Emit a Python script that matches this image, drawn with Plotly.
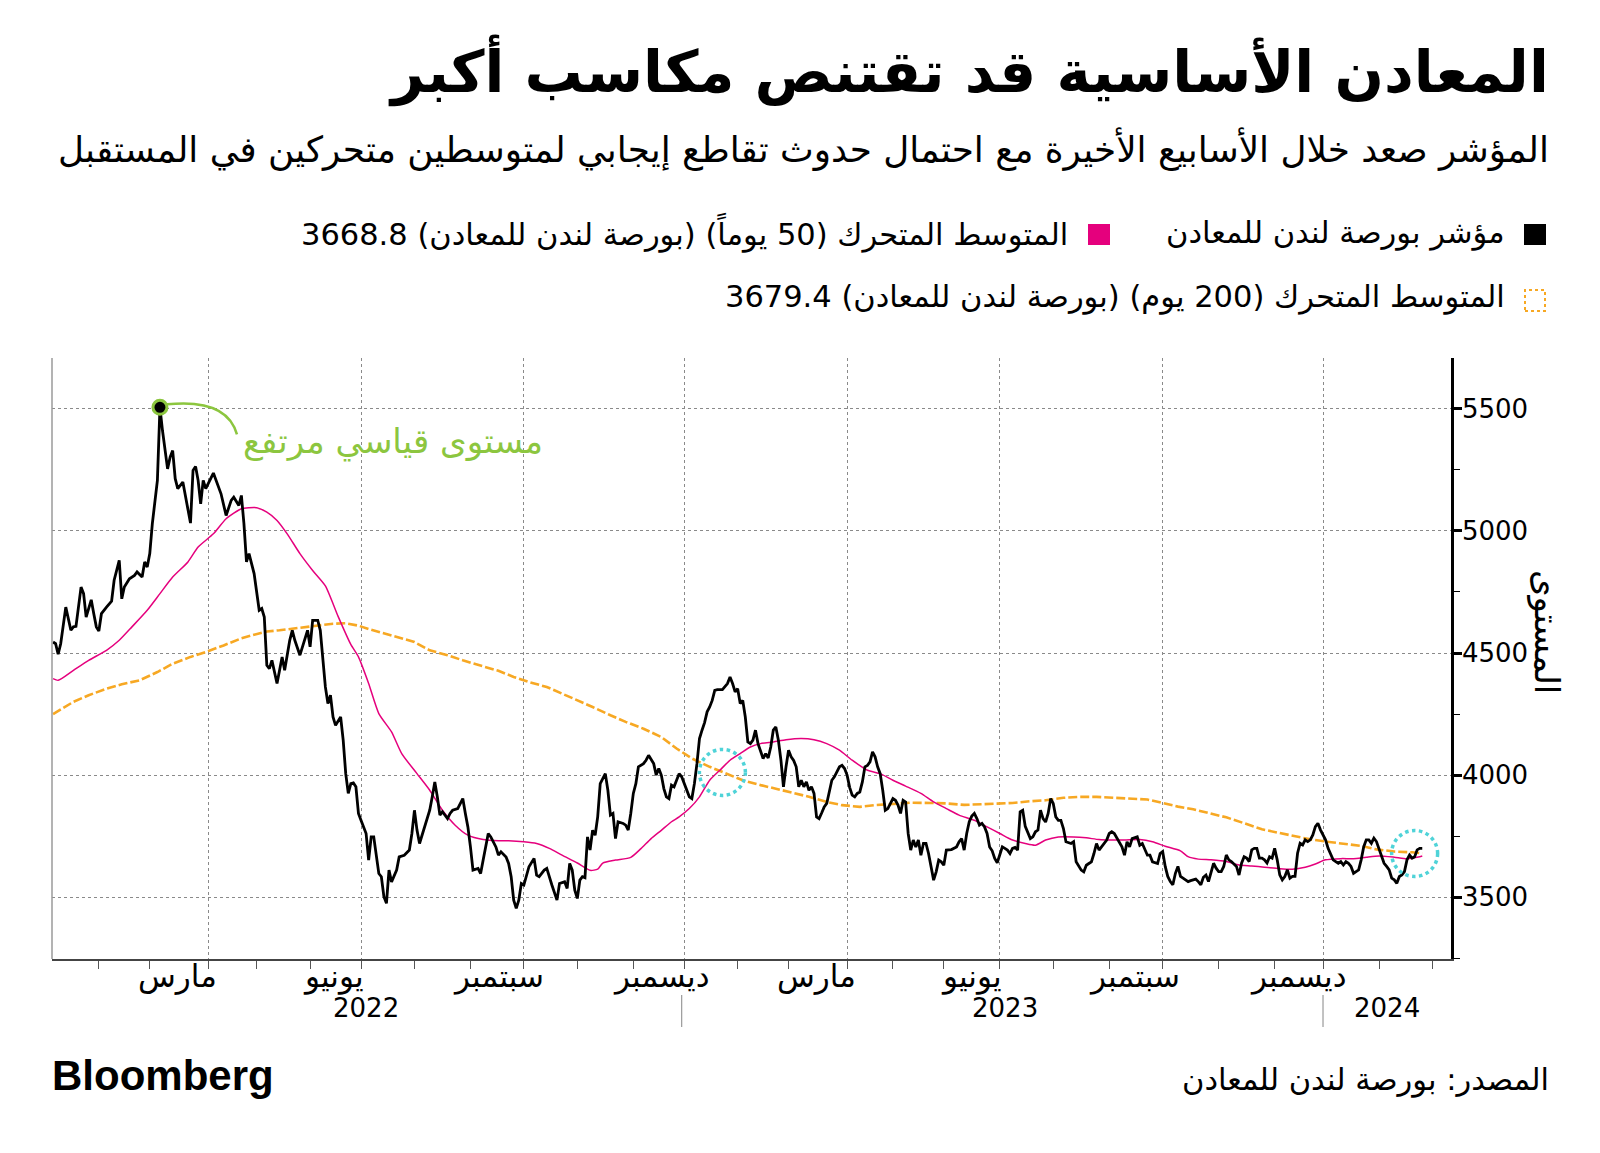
import plotly.graph_objects as go
import pandas as pd

# ---------------- data ----------------
idx_dates = [
"2022-01-06","2022-01-07","2022-01-10","2022-01-11","2022-01-13","2022-01-14","2022-01-17","2022-01-18","2022-01-19","2022-01-21",
"2022-01-24","2022-01-25","2022-01-27","2022-01-28","2022-01-31","2022-02-01","2022-02-02","2022-02-04","2022-02-08","2022-02-09",
"2022-02-11","2022-02-14","2022-02-15","2022-02-17","2022-02-21","2022-02-22","2022-02-24","2022-02-25","2022-02-28","2022-03-01",
"2022-03-02","2022-03-04","2022-03-07","2022-03-08","2022-03-09","2022-03-10","2022-03-11","2022-03-14","2022-03-15","2022-03-16",
"2022-03-18","2022-03-22","2022-03-23","2022-03-24","2022-03-25","2022-03-28","2022-03-29","2022-03-30","2022-03-31","2022-04-05",
"2022-04-07","2022-04-08","2022-04-12","2022-04-14","2022-04-19","2022-04-21","2022-04-22","2022-04-25","2022-04-26","2022-04-27",
"2022-04-29","2022-05-04","2022-05-05","2022-05-06","2022-05-09","2022-05-10","2022-05-11","2022-05-13","2022-05-17","2022-05-18",
"2022-05-20","2022-05-23","2022-05-24","2022-05-26","2022-05-31","2022-06-01","2022-06-06","2022-06-08","2022-06-09","2022-06-10",
"2022-06-13","2022-06-14","2022-06-15","2022-06-16","2022-06-17","2022-06-21","2022-06-22","2022-06-23","2022-06-24","2022-06-27",
"2022-06-28","2022-06-29","2022-06-30","2022-07-01","2022-07-05","2022-07-06","2022-07-07","2022-07-08","2022-07-11","2022-07-12",
"2022-07-13","2022-07-14","2022-07-15","2022-07-18","2022-07-19","2022-07-21","2022-07-22","2022-07-26","2022-07-28","2022-07-29",
"2022-08-01","2022-08-02","2022-08-03","2022-08-08","2022-08-09","2022-08-10","2022-08-11","2022-08-12","2022-08-15","2022-08-16",
"2022-08-18","2022-08-19","2022-08-22","2022-08-24","2022-08-26","2022-08-30","2022-08-31","2022-09-01","2022-09-02","2022-09-06",
"2022-09-07","2022-09-08","2022-09-09","2022-09-12","2022-09-13","2022-09-15","2022-09-16","2022-09-20","2022-09-22","2022-09-23",
"2022-09-26","2022-09-27","2022-09-28","2022-09-29","2022-09-30","2022-10-03","2022-10-05","2022-10-07","2022-10-10","2022-10-11",
"2022-10-13","2022-10-14","2022-10-18","2022-10-20","2022-10-21","2022-10-25","2022-10-26","2022-10-27","2022-10-28","2022-10-31",
"2022-11-01","2022-11-02","2022-11-03","2022-11-04","2022-11-07","2022-11-08","2022-11-09","2022-11-10","2022-11-11","2022-11-14",
"2022-11-15","2022-11-16","2022-11-17","2022-11-18","2022-11-21","2022-11-22","2022-11-23","2022-11-25","2022-11-28","2022-11-29",
"2022-11-30","2022-12-01","2022-12-02","2022-12-05","2022-12-07","2022-12-08","2022-12-09","2022-12-13","2022-12-14","2022-12-15",
"2022-12-16","2022-12-19","2022-12-20","2022-12-21","2022-12-22","2022-12-23","2022-12-28","2022-12-29","2022-12-30","2023-01-03",
"2023-01-04","2023-01-05","2023-01-06","2023-01-09","2023-01-10","2023-01-11","2023-01-12","2023-01-13","2023-01-16","2023-01-17",
"2023-01-18","2023-01-19","2023-01-20","2023-01-24","2023-01-26","2023-01-27","2023-01-30","2023-01-31","2023-02-01","2023-02-02",
"2023-02-03","2023-02-06","2023-02-07","2023-02-08","2023-02-09","2023-02-10","2023-02-13","2023-02-14","2023-02-15","2023-02-16",
"2023-02-17","2023-02-20","2023-02-21","2023-02-22","2023-02-23","2023-02-24","2023-02-27","2023-02-28","2023-03-01","2023-03-02",
"2023-03-03","2023-03-06","2023-03-07","2023-03-08","2023-03-09","2023-03-10","2023-03-13","2023-03-14","2023-03-15","2023-03-16",
"2023-03-17","2023-03-20","2023-03-21","2023-03-22","2023-03-23","2023-03-24","2023-03-27","2023-03-29","2023-03-30","2023-03-31",
"2023-04-03","2023-04-04","2023-04-05","2023-04-06","2023-04-11","2023-04-12","2023-04-13","2023-04-14","2023-04-17","2023-04-18",
"2023-04-19","2023-04-20","2023-04-21","2023-04-24","2023-04-25","2023-04-26","2023-04-27","2023-04-28","2023-05-02","2023-05-03",
"2023-05-04","2023-05-05","2023-05-09","2023-05-10","2023-05-11","2023-05-12","2023-05-15","2023-05-16","2023-05-17","2023-05-18",
"2023-05-19","2023-05-22","2023-05-23","2023-05-24","2023-05-25","2023-05-26","2023-05-30","2023-05-31","2023-06-01","2023-06-02",
"2023-06-06","2023-06-08","2023-06-09","2023-06-12","2023-06-13","2023-06-14","2023-06-15","2023-06-16","2023-06-19","2023-06-20",
"2023-06-21","2023-06-22","2023-06-23","2023-06-26","2023-06-27","2023-06-28","2023-06-29","2023-06-30","2023-07-03","2023-07-04",
"2023-07-05","2023-07-06","2023-07-07","2023-07-10","2023-07-11","2023-07-12","2023-07-13","2023-07-14","2023-07-17","2023-07-18",
"2023-07-19","2023-07-20","2023-07-21","2023-07-24","2023-07-25","2023-07-26","2023-07-27","2023-07-28","2023-07-31","2023-08-01",
"2023-08-02","2023-08-03","2023-08-04","2023-08-07","2023-08-08","2023-08-10","2023-08-11","2023-08-14","2023-08-15","2023-08-16",
"2023-08-17","2023-08-18","2023-08-21","2023-08-22","2023-08-23","2023-08-24","2023-08-25","2023-08-30","2023-08-31","2023-09-01",
"2023-09-04","2023-09-05","2023-09-07","2023-09-08","2023-09-11","2023-09-12","2023-09-13","2023-09-14","2023-09-18","2023-09-19",
"2023-09-20","2023-09-22","2023-09-25","2023-09-26","2023-09-28","2023-09-29","2023-10-02","2023-10-03","2023-10-04","2023-10-05",
"2023-10-06","2023-10-09","2023-10-10","2023-10-11","2023-10-12","2023-10-13","2023-10-16","2023-10-17","2023-10-18","2023-10-19",
"2023-10-20","2023-10-23","2023-10-24","2023-10-25","2023-10-26","2023-10-27","2023-10-30","2023-10-31","2023-11-01","2023-11-02",
"2023-11-03","2023-11-06","2023-11-07","2023-11-08","2023-11-10","2023-11-13","2023-11-14","2023-11-15","2023-11-16","2023-11-17",
"2023-11-20","2023-11-21","2023-11-22","2023-11-23","2023-11-24","2023-11-27","2023-11-28","2023-11-29","2023-11-30","2023-12-01",
"2023-12-04","2023-12-05","2023-12-06","2023-12-07","2023-12-08","2023-12-11","2023-12-12","2023-12-13","2023-12-14","2023-12-15",
"2023-12-18","2023-12-19","2023-12-20","2023-12-21","2023-12-22","2023-12-27","2023-12-28","2023-12-29","2024-01-02","2024-01-03",
"2024-01-04","2024-01-05","2024-01-08","2024-01-09","2024-01-10","2024-01-11","2024-01-12","2024-01-15","2024-01-16","2024-01-17",
"2024-01-18","2024-01-19","2024-01-22","2024-01-23","2024-01-24","2024-01-25","2024-01-26","2024-01-29","2024-01-30","2024-01-31",
"2024-02-01","2024-02-02","2024-02-05","2024-02-06","2024-02-07","2024-02-08","2024-02-09","2024-02-12","2024-02-13","2024-02-14",
"2024-02-15","2024-02-16","2024-02-19","2024-02-20","2024-02-21","2024-02-22","2024-02-23","2024-02-26",
]
idx_values = [
4545,4538,4495,4538,4688,4634,4593,4607,4609,4770,
4743,4647,4718,4661,4607,4590,4661,4688,4712,4798,
4879,4722,4770,4804,4818,4832,4811,4873,4852,4907,
5029,5207,5506,5411,5330,5254,5302,5329,5214,5173,
5200,5097,5032,5248,5264,5207,5111,5207,5173,5237,
5180,5152,5063,5125,5138,5104,5145,5030,4873,4907,
4825,4675,4682,4647,4450,4436,4470,4375,4484,4429,
4552,4593,4552,4491,4593,4525,4634,4634,4593,4484,
4361,4293,4327,4238,4204,4238,4143,4006,3925,3965,
3968,3952,3843,3815,3761,3652,3747,3747,3679,3597,
3584,3502,3475,3611,3563,3611,3665,3672,3693,3761,
3856,3775,3720,3829,3856,3911,3972,3911,3836,3850,
3822,3843,3856,3863,3904,3843,3788,3706,3611,3618,
3597,3652,3706,3761,3747,3706,3672,3686,3665,3638,
3584,3488,3454,3488,3556,3550,3625,3659,3590,3584,
3611,3618,3550,3488,3556,3563,3536,3638,3611,3529,
3495,3570,3584,3580,3747,3693,3774,3754,3829,3965,
3986,4006,3938,3836,3843,3740,3809,3802,3795,3775,
3843,3925,3965,4034,4047,4061,4081,4047,4000,4027,
4000,3945,3911,3904,3959,3952,3979,4006,3993,3965,
3938,3911,3904,3965,4047,4150,4184,4215,4259,4279,
4306,4347,4350,4350,4375,4402,4375,4341,4354,4293,
4306,4238,4136,4129,4143,4184,4129,4102,4068,4088,
4070,4115,4184,4197,4143,4061,3952,4034,4102,4075,
4060,4034,3952,3979,3952,3972,3938,3952,3925,3829,
3822,3845,3870,3884,3938,3979,3993,4034,4040,4027,
4000,3950,3918,3911,3925,3931,3972,4034,4040,4054,
4095,4075,4034,4006,3938,3856,3863,3884,3904,3897,
3877,3843,3897,3890,3761,3693,3734,3706,3734,3672,
3720,3720,3679,3625,3570,3604,3652,3645,3631,3693,
3695,3706,3727,3740,3693,3761,3809,3832,3843,3822,
3795,3802,3788,3761,3706,3690,3659,3641,3679,3706,
3700,3693,3679,3700,3704,3693,3850,3856,3790,3761,
3740,3747,3768,3775,3856,3822,3808,3843,3904,3884,
3829,3815,3815,3781,3727,3720,3727,3645,3625,3611,
3604,3631,3638,3645,3679,3720,3693,3720,3734,3761,
3768,3761,3727,3706,3672,3727,3706,3740,3747,3713,
3720,3672,3672,3645,3638,3679,3687,3626,3585,3564,
3551,3598,3626,3585,3578,3571,3564,3568,3571,3574,
3564,3551,3582,3591,3564,3605,3639,3619,3605,3605,
3626,3673,3653,3646,3626,3591,3639,3666,3660,3646,
3694,3700,3700,3660,3660,3653,3640,3666,3660,3700,
3653,3592,3571,3585,3612,3578,3585,3585,3680,3721,
3714,3735,3728,3735,3755,3789,3803,3776,3755,3735,
3700,3673,3653,3646,3639,3646,3632,3646,3639,3626,
3598,3605,3612,3653,3707,3735,3735,3721,3742,3728,
3700,3673,3639,3626,3612,3578,3571,3557,3585,3591,
3605,3653,3673,3660,3666,3694,3700,3700,
]

ma50_dates = [
"2022-01-06","2022-01-10","2022-01-18","2022-01-26","2022-02-04","2022-02-11","2022-02-18","2022-02-28","2022-03-07","2022-03-14",
"2022-03-22","2022-03-28","2022-04-05","2022-04-12","2022-04-22","2022-04-27","2022-05-03","2022-05-09","2022-05-13","2022-05-19",
"2022-05-26","2022-06-06","2022-06-13","2022-06-20","2022-06-27","2022-06-30","2022-07-06","2022-07-12","2022-07-19","2022-07-25",
"2022-08-02","2022-08-09","2022-08-16","2022-08-23","2022-08-31","2022-09-08","2022-09-16","2022-09-23","2022-10-03","2022-10-10",
"2022-10-17","2022-10-24","2022-11-01","2022-11-08","2022-11-11","2022-11-15","2022-11-22","2022-11-30","2022-12-06","2022-12-12",
"2022-12-16","2022-12-22","2022-12-29","2023-01-05","2023-01-11","2023-01-17","2023-01-23","2023-01-27","2023-02-02","2023-02-08",
"2023-02-14","2023-02-21","2023-02-28","2023-03-08","2023-03-15","2023-03-22","2023-03-29","2023-04-05","2023-04-17","2023-04-24",
"2023-05-02","2023-05-10","2023-05-18","2023-05-25","2023-06-02","2023-06-09","2023-06-19","2023-06-26","2023-07-03","2023-07-10",
"2023-07-17","2023-07-21","2023-07-27","2023-08-03","2023-08-11","2023-08-18","2023-08-25","2023-09-04","2023-09-11","2023-09-19",
"2023-09-26","2023-10-03","2023-10-11","2023-10-16","2023-10-20","2023-10-27","2023-11-06","2023-11-13","2023-11-20","2023-11-27",
"2023-12-05","2023-12-12","2023-12-19","2023-12-27","2024-01-03","2024-01-11","2024-01-18","2024-01-25","2024-02-01","2024-02-09",
"2024-02-16","2024-02-23","2024-02-26",
]
ma50_values = [
4395,4388,4429,4470,4511,4552,4607,4675,4743,4811,
4873,4934,4988,5050,5091,5095,5095,5077,5043,4988,
4907,4838,4775,4650,4535,4484,4375,4252,4177,4088,
4006,3938,3856,3795,3754,3736,3731,3731,3727,3720,
3700,3672,3640,3610,3615,3640,3652,3663,3699,3740,
3774,3809,3829,3863,3911,3979,4020,4061,4088,4115,
4129,4136,4145,4150,4145,4129,4102,4061,4020,4006,
3979,3955,3925,3890,3863,3836,3815,3788,3761,3734,
3720,3713,3734,3747,3747,3743,3736,3734,3734,3736,
3727,3709,3690,3666,3656,3653,3646,3632,3628,3623,
3617,3615,3623,3636,3653,3658,3658,3664,3669,3664,
3658,3666,3668.8,
]

ma200_dates = [
"2022-01-06","2022-01-18","2022-01-26","2022-02-04","2022-02-14","2022-02-23","2022-03-04","2022-03-14","2022-03-23","2022-03-31",
"2022-04-11","2022-04-22","2022-04-29","2022-05-09","2022-05-16","2022-05-24","2022-05-31","2022-06-09","2022-06-16","2022-06-23",
"2022-06-30","2022-07-07","2022-07-12","2022-07-21","2022-08-01","2022-08-09","2022-08-18","2022-08-26","2022-09-07","2022-09-16",
"2022-09-27","2022-10-05","2022-10-14","2022-10-25","2022-11-01","2022-11-09","2022-11-18","2022-11-28","2022-12-07","2022-12-16",
"2022-12-28","2023-01-06","2023-01-17","2023-01-26","2023-02-03","2023-02-14","2023-02-22","2023-03-03","2023-03-13","2023-03-22",
"2023-03-30","2023-04-12","2023-04-20","2023-05-02","2023-05-12","2023-05-24","2023-06-02","2023-06-13","2023-06-22","2023-06-30",
"2023-07-10","2023-07-19","2023-07-27","2023-08-07","2023-08-15","2023-08-24","2023-09-04","2023-09-13","2023-09-22","2023-10-02",
"2023-10-10","2023-10-18","2023-10-26","2023-11-06","2023-11-15","2023-11-24","2023-12-04","2023-12-12","2023-12-21","2024-01-03",
"2024-01-12","2024-01-23","2024-01-31","2024-02-09","2024-02-20","2024-02-26",
]
ma200_values = [
4250,4300,4327,4354,4372,4388,4422,4456,4484,4504,
4531,4560,4575,4588,4593,4600,4606,4612,4620,4622,
4612,4595,4586,4566,4545,4511,4491,4470,4450,4427,
4402,4381,4361,4330,4306,4279,4245,4218,4190,4156,
4109,4068,4034,4004,3979,3959,3945,3927,3911,3890,
3877,3870,3877,3882,3887,3886,3884,3878,3881,3884,
3886,3893,3897,3907,3911,3911,3907,3904,3900,3886,
3871,3860,3844,3827,3803,3778,3765,3751,3737,3728,
3718,3710,3696,3687,3684,3679.4,
]

# crossover highlights (date, level)
cross_dates = ["2023-01-24", "2024-02-21"]
cross_values = [4011, 3679]

y_ticks = [3500, 4000, 4500, 5000, 5500]
month_label_text = ["مارس", "يونيو", "سبتمبر", "ديسمبر", "مارس", "يونيو", "سبتمبر", "ديسمبر"]
month_label_dates = ["2022-03-16", "2022-06-16", "2022-09-16", "2022-12-16",
                     "2023-03-16", "2023-06-16", "2023-09-15", "2023-12-14"]
year_label_text = ["2022", "2023", "2024"]
year_label_dates = ["2022-07-05", "2023-07-05", "2024-02-06"]
year_break_dates = ["2023-01-01", "2024-01-01"]

holidays = ["2022-01-03", "2022-04-15", "2022-04-18", "2022-05-02", "2022-06-02", "2022-06-03",
            "2022-08-29", "2022-09-19", "2022-12-26", "2022-12-27", "2023-01-02", "2023-04-07",
            "2023-04-10", "2023-05-01", "2023-05-08", "2023-05-29", "2023-08-28", "2023-12-25",
            "2023-12-26", "2024-01-01"]

TITLE = "المعادن الأساسية قد تقتنص مكاسب أكبر"
SUBTITLE = "المؤشر صعد خلال الأسابيع الأخيرة مع احتمال حدوث تقاطع إيجابي لمتوسطين متحركين في المستقبل"
LEG_IDX = "مؤشر بورصة لندن للمعادن"
LEG_50 = "المتوسط المتحرك (50 يوماً) (بورصة لندن للمعادن) 3668.8"
LEG_200 = "المتوسط المتحرك (200 يوم) (بورصة لندن للمعادن) 3679.4"
PEAK_NOTE = "مستوى قياسي مرتفع"
Y_TITLE = "المستوى"
SOURCE = "المصدر: بورصة لندن للمعادن"

# ---------------- styling / geometry ----------------
# the page body has an 8px margin; the figure is sized so that page pixels match the reference
PAGE_OFF = 8
W, H = 1600 - 2 * PAGE_OFF, 1153 - 2 * PAGE_OFF
PX0, PX1, PY0, PY1 = 52, 1451, 358, 959          # plot area in page pixels
def fx(px):
    return (px - PX0) / (PX1 - PX0)
def fy(py):
    return (PY1 - py) / (PY1 - PY0)

AR_FONT = "DejaVu Sans, sans-serif"
NUM_FONT = "DejaVu Sans, sans-serif"
BLACK = "#000000"
MAGENTA = "#e5007d"
ORANGE = "#f7a823"
GREEN = "#8cc63f"
CYAN = "#4fd3d8"
GRID = "#8a8a8a"

hol_set = set(holidays)
def first_trading_day(ts):
    d = ts
    while d.weekday() >= 5 or d.strftime("%Y-%m-%d") in hol_set:
        d = d + pd.Timedelta(days=1)
    return d.strftime("%Y-%m-%d")

month_starts = pd.date_range("2022-02-01", "2024-03-01", freq="MS")
minor_ticks = [first_trading_day(m) for m in month_starts]
major_ticks = [first_trading_day(m) for m in month_starts if m.month in (1, 4, 7, 10)]

fig = go.Figure()
fig.add_trace(go.Scatter(x=ma200_dates, y=ma200_values, mode="lines",
                         line=dict(color=ORANGE, width=2.6, dash="9px,3px"),
                         showlegend=False, hoverinfo="skip"))
fig.add_trace(go.Scatter(x=ma50_dates, y=ma50_values, mode="lines",
                         line=dict(color=MAGENTA, width=1.5, shape="spline", smoothing=0.6),
                         showlegend=False, hoverinfo="skip"))
fig.add_trace(go.Scatter(x=idx_dates, y=idx_values, mode="lines",
                         line=dict(color=BLACK, width=2.8),
                         showlegend=False, hoverinfo="skip"))

# record-high marker
peak_i = max(range(len(idx_values)), key=lambda i: idx_values[i])
peak_x, peak_y = idx_dates[peak_i], idx_values[peak_i]
fig.add_trace(go.Scatter(x=[peak_x], y=[peak_y], mode="markers",
                         marker=dict(size=14, color=BLACK, line=dict(color=GREEN, width=3)),
                         showlegend=False, hoverinfo="skip"))

shapes = []
for cx, cy in zip(cross_dates, cross_values):
    shapes.append(dict(type="circle", xref="x", yref="y", xsizemode="pixel", ysizemode="pixel",
                       xanchor=cx, yanchor=cy, x0=-23, x1=23, y0=-23, y1=23,
                       line=dict(color=CYAN, width=3.5, dash="dot")))
shapes.append(dict(type="path", xref="x", yref="y", xsizemode="pixel", ysizemode="pixel",
                   xanchor=peak_x, yanchor=peak_y,
                   path="M 7,3 C 45,7 70,-2 77,-27",
                   line=dict(color=GREEN, width=2.5)))
shapes.append(dict(type="line", xref="paper", yref="paper", x0=0, x1=0, y0=0, y1=1,
                   line=dict(color="#9a9a9a", width=1.5)))
for d in year_break_dates:
    shapes.append(dict(type="line", xref="x", yref="paper", x0=d, x1=d,
                       y0=fy(995), y1=fy(1027), line=dict(color="#9a9a9a", width=1.2)))
shapes.append(dict(type="rect", xref="paper", yref="paper", x0=fx(1524), x1=fx(1546),
                   y0=fy(245), y1=fy(224), fillcolor=BLACK, line=dict(width=0)))
shapes.append(dict(type="rect", xref="paper", yref="paper", x0=fx(1088), x1=fx(1110),
                   y0=fy(245), y1=fy(224), fillcolor=MAGENTA, line=dict(width=0)))
shapes.append(dict(type="rect", xref="paper", yref="paper", x0=fx(1525), x1=fx(1545),
                   y0=fy(311), y1=fy(290), fillcolor="rgba(0,0,0,0)",
                   line=dict(color=ORANGE, width=2, dash="3px,3px")))

ann = []
def add_text(text, px, py, size, xanchor="right", color=BLACK, bold=False, family=AR_FONT):
    t = f"<b>{text}</b>" if bold else text
    ann.append(dict(text=t, xref="paper", yref="paper", x=fx(px), y=fy(py), xanchor=xanchor,
                    yanchor="middle", showarrow=False, borderpad=0,
                    font=dict(size=size, color=color, family=family)))

add_text(TITLE, 1550, 70, 58, bold=True)
add_text(SUBTITLE, 1550, 149, 35.8)
add_text(LEG_IDX, 1506, 233, 30.5)
add_text(LEG_50, 1069, 233, 30.5)
add_text(LEG_200, 1506, 297, 30.5)
add_text(SOURCE, 1550, 1080, 30.5)
add_text("Bloomberg", 51, 1075, 42, xanchor="left", bold=True, family="Liberation Sans, Arial, sans-serif")

for t, d in zip(month_label_text, month_label_dates):
    ann.append(dict(text=t, xref="x", yref="paper", x=d, y=fy(976), xanchor="center", yanchor="middle",
                    showarrow=False, font=dict(size=31, color=BLACK, family=AR_FONT)))
for t, d in zip(year_label_text, year_label_dates):
    ann.append(dict(text=t, xref="x", yref="paper", x=d, y=fy(1008), xanchor="center", yanchor="middle",
                    showarrow=False, font=dict(size=26, color=BLACK, family=AR_FONT)))
ann.append(dict(text=Y_TITLE, xref="paper", yref="paper", x=fx(1547), y=fy(632), textangle=90,
                xanchor="center", yanchor="middle", showarrow=False,
                font=dict(size=34, color=BLACK, family=AR_FONT)))
ann.append(dict(text=PEAK_NOTE, xref="x", yref="y", x=peak_x, y=peak_y, xanchor="left", yanchor="middle",
                xshift=81, yshift=-34, showarrow=False, font=dict(size=34, color=GREEN, family=AR_FONT)))

fig.update_layout(
    width=W, height=H,
    margin=dict(l=PX0 - PAGE_OFF, r=(W + PAGE_OFF) - PX1, t=PY0 - PAGE_OFF, b=(H + PAGE_OFF) - PY1, pad=0),
    paper_bgcolor="white", plot_bgcolor="white",
    shapes=shapes, annotations=ann,
    showlegend=False,
)
fig.update_xaxes(
    type="date",
    range=["2022-01-05 14:00", "2024-03-12 07:00"],
    rangebreaks=[dict(bounds=["sat", "mon"]), dict(values=holidays)],
    tickmode="array", tickvals=major_ticks, ticktext=["" for _ in major_ticks],
    ticks="outside", ticklen=8, tickwidth=1.2, tickcolor="#555555",
    showgrid=True, gridcolor=GRID, griddash="dot", gridwidth=1.2,
    minor=dict(tickmode="array", tickvals=minor_ticks, ticks="outside", ticklen=8,
               tickwidth=1.2, tickcolor="#555555", showgrid=False),
    showline=True, linecolor="#444444", linewidth=2,
    zeroline=False, fixedrange=True,
)
fig.update_yaxes(
    side="right", range=[3247, 5708],
    tickmode="array", tickvals=y_ticks, ticktext=[str(v) for v in y_ticks],
    ticks="outside", ticklen=8, tickwidth=3, tickcolor=BLACK,
    tickfont=dict(size=26, color=BLACK, family=NUM_FONT),
    ticklabelstandoff=-5,
    showgrid=True, gridcolor=GRID, griddash="dot", gridwidth=1.2,
    minor=dict(tickmode="linear", tick0=3250, dtick=500, ticks="outside", ticklen=6,
               tickwidth=1.2, tickcolor=BLACK, showgrid=False),
    showline=True, linecolor=BLACK, linewidth=2.5,
    zeroline=False, fixedrange=True,
)

fig.write_html("out.html")
